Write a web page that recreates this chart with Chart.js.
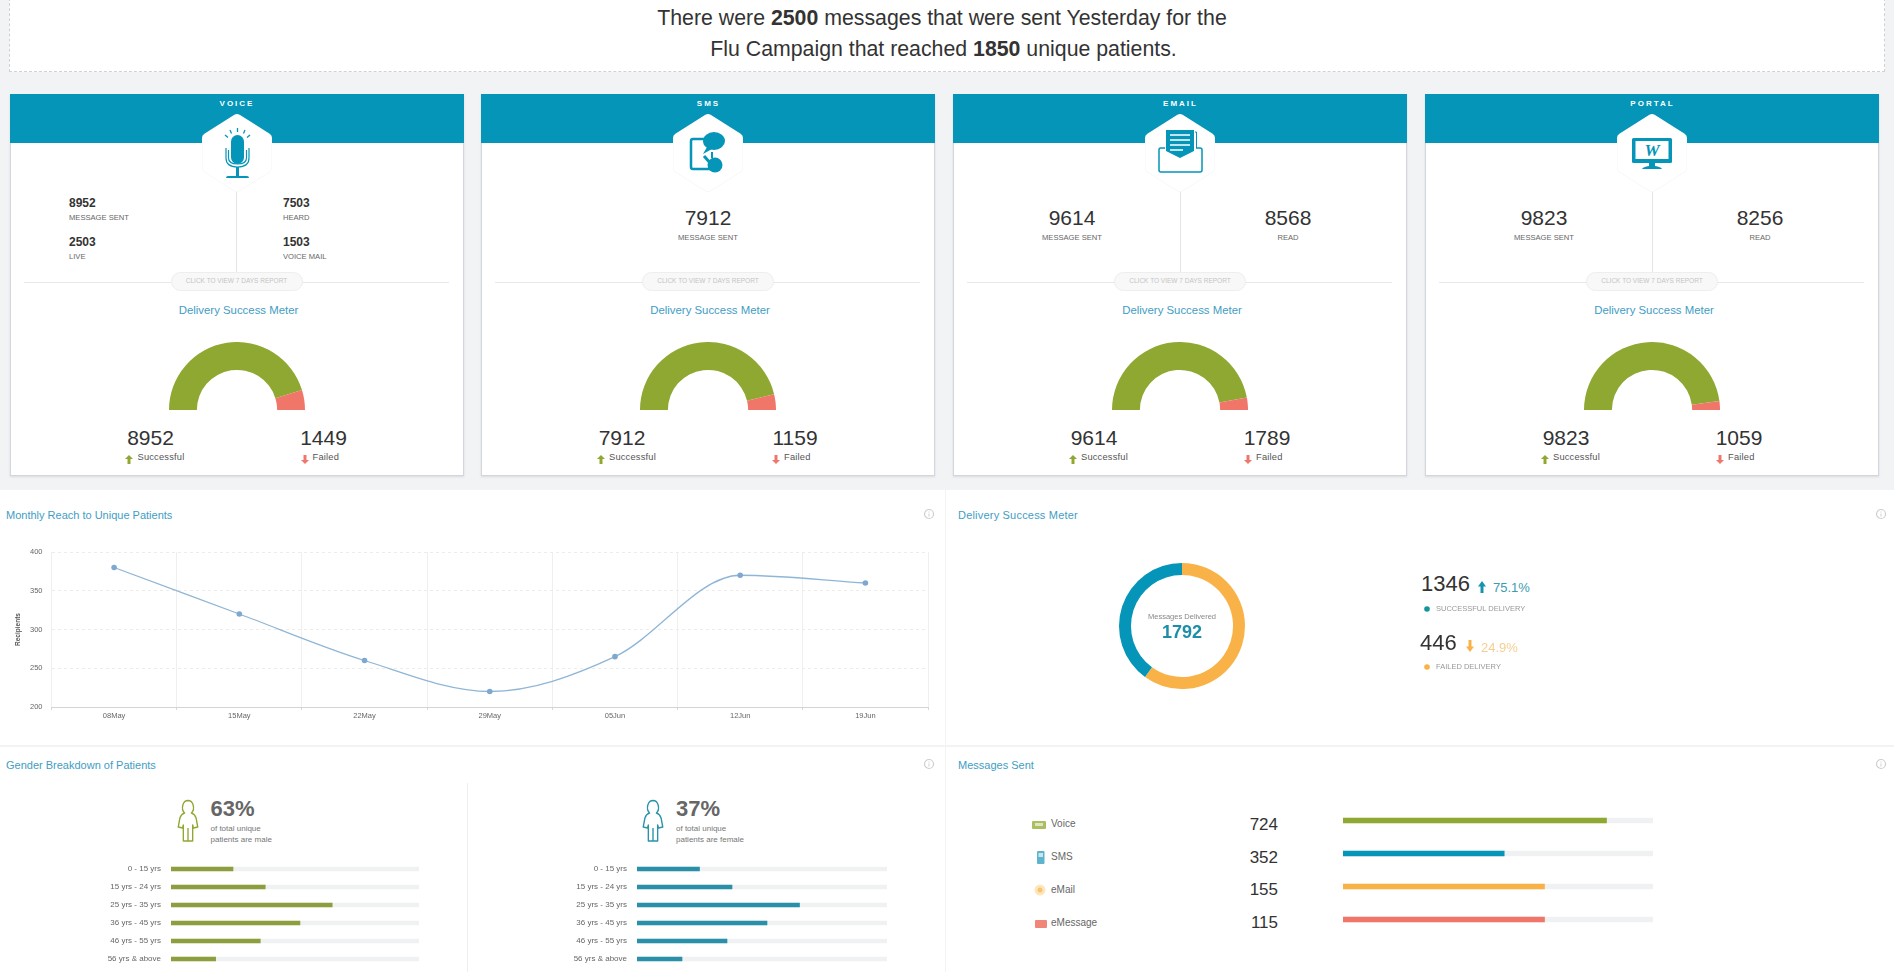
<!DOCTYPE html>
<html>
<head>
<meta charset="utf-8">
<title>Flu Campaign</title>
<script src="https://cdn.jsdelivr.net/npm/chart.js@4"></script>
<style>
  html, body { margin: 0; padding: 0; }
  body { width: 1894px; height: 972px; overflow: hidden; background: #f2f3f5; position: relative;
         font-family: "Liberation Sans", Arial, sans-serif; color: #333; }
  .box { position: absolute; box-sizing: border-box; background: #fff; }
  .t { position: absolute; white-space: nowrap; line-height: 1; }
  canvas, svg { position: absolute; display: block; }
</style>
</head>
<body>
<script>
// channels
const channelNames = ['VOICE', 'SMS', 'EMAIL', 'PORTAL'];
const channelCentres = [236.5, 708, 1180, 1652];
const successValues = [8952, 7912, 9614, 9823];
const failedValues = [1449, 1159, 1789, 1059];
const reportLabels = ['CLICK TO VIEW 7 DAYS REPORT', 'CLICK TO VIEW 7 DAYS REPORT', 'CLICK TO VIEW 7 DAYS REPORT', 'CLICK TO VIEW 7 DAYS REPORT'];
// share of the half ring as drawn in the picture
const gaugeSuccessShare = [90.5, 92.5, 94.1, 95.8];
const gaugeFailedShare = [9.5, 7.5, 5.9, 4.2];

const emailStats = [['9614', 'MESSAGE SENT'], ['8568', 'READ']];
const portalStats = [['9823', 'MESSAGE SENT'], ['8256', 'READ']];
const voiceStats = [['8952', 'MESSAGE SENT'], ['7503', 'HEARD'], ['2503', 'LIVE'], ['1503', 'VOICE MAIL']];

// monthly reach
const reachLabels = ['08May', '15May', '22May', '29May', '05Jun', '12Jun', '19Jun'];
const reachValues = [380, 320, 260, 220, 265, 370, 360];

// delivery ring, share as drawn
const ringShare = [60, 40];

// gender
const ageLabels = ['0 - 15 yrs', '15 yrs - 24 yrs', '25 yrs - 35 yrs', '36 yrs - 45 yrs', '46 yrs - 55 yrs', '56 yrs & above'];
const maleShare = [25, 38, 65, 52, 36, 18];
const femaleShare = [25, 38, 65, 52, 36, 18];

// messages sent
const messageLabels = ['Voice', 'SMS', 'eMail', 'eMessage'];
const messageCounts = [724, 352, 155, 115];
const messageBarShare = [85, 52, 65, 65];

const BLUE = '#0495b8', GREEN = '#8fa832', RED = '#f0766a', ORANGE = '#f9b248', TITLE = '#3f9dc4';
const body = document.body;

function box(x, y, w, h, css) {
  const d = document.createElement('div');
  d.className = 'box';
  d.style.cssText = `left:${x}px;top:${y}px;width:${w}px;height:${h}px;` + (css || '');
  body.appendChild(d);
  return d;
}

// align: l, c, r around x; y is the vertical middle
function put(x, y, text, css, align) {
  const d = document.createElement('div');
  d.className = 't';
  const tx = align === 'c' ? '-50%' : align === 'r' ? '-100%' : '0';
  d.style.cssText = `left:${x}px;top:${y}px;transform:translate(${tx},-50%);` + (css || '');
  d.innerHTML = text;
  body.appendChild(d);
}

function svg(x, y, w, h, inner) {
  const holder = document.createElement('div');
  holder.innerHTML = `<svg style="left:${x}px;top:${y}px" width="${w}" height="${h}" viewBox="0 0 ${w} ${h}">${inner}</svg>`;
  body.appendChild(holder.firstChild);
}

function canvas(x, y, w, h) {
  const c = document.createElement('canvas');
  c.width = w; c.height = h;
  c.style.cssText = `left:${x}px;top:${y}px;width:${w}px;height:${h}px`;
  body.appendChild(c);
  return c;
}

function upArrow(x, y, col, h) {
  h = h || 9;
  svg(x - 4, y - h / 2, 8, h, `<path d="M4 0 L8 ${h * 0.45} L5.5 ${h * 0.45} L5.5 ${h} L2.5 ${h} L2.5 ${h * 0.45} L0 ${h * 0.45} Z" fill="${col}"/>`);
}
function downArrow(x, y, col, h) {
  h = h || 9;
  svg(x - 4, y - h / 2, 8, h, `<path d="M4 ${h} L8 ${h * 0.55} L5.5 ${h * 0.55} L5.5 0 L2.5 0 L2.5 ${h * 0.55} L0 ${h * 0.55} Z" fill="${col}"/>`);
}

const icons = [
  // mic
  `<rect x="29" y="21" width="13" height="29" rx="6.5" fill="${BLUE}"/>
   <path d="M24 34 L24 44 Q24 53 35.500 53 Q47 53 47 44 L47 34 M26.500 36 L26.500 44 Q26.500 50 35.500 50 Q44.500 50 44.500 44 L44.500 36" fill="none" stroke="${BLUE}" stroke-width="1.200"/>
   <path d="M34 53 h3 v9 h-3z M26 62 h19 q2 0 2 2 h-23 q0 -2 2 -2z" fill="${BLUE}"/>
   <path d="M35.500 14 v4 M28 16 l1.500 3.500 M43 16 l-1.500 3.500 M23 21 l3 2.500 M48 21 l-3 2.500" stroke="${BLUE}" stroke-width="1.300"/>`,
  // phone with bubble
  `<path d="M35 25 H20 Q18 25 18 27 V53 Q18 55 20 55 H38" fill="none" stroke="${BLUE}" stroke-width="2.500"/>
   <ellipse cx="41" cy="27" rx="11" ry="9" fill="${BLUE}"/><path d="M34 33 L30 40 L39 35z" fill="${BLUE}"/>
   <path d="M31 42 L38 50" stroke="${BLUE}" stroke-width="3"/><circle cx="42" cy="51" r="7.500" fill="${BLUE}"/><rect x="38" y="38" width="2" height="6" fill="${BLUE}"/>`,
  // envelope
  `<path d="M20 34 H15.500 Q14 34 14 36 V56 Q14 58 16 58 H55 Q57 58 57 56 V36 Q57 34 55 34 H51" fill="none" stroke="${BLUE}" stroke-width="1.500"/>
   <path d="M21 16 H49 V37 L35 44 L21 37 Z" fill="${BLUE}"/>
   <path d="M25 21 H45 M25 26 H45 M25 31 H45 M25 36 H38" stroke="#fff" stroke-width="1.400"/>
   <path d="M50 18 H51.500 V34" fill="none" stroke="${BLUE}" stroke-width="1"/>`,
  // monitor
  `<rect x="15" y="24" width="40" height="25" rx="1.500" fill="${BLUE}"/><rect x="18.500" y="27" width="33" height="18" fill="#fff"/>
   <text x="35" y="42" text-anchor="middle" font-family="Liberation Serif" font-style="italic" font-weight="bold" font-size="17" fill="${BLUE}">W</text>
   <path d="M32 49 h6 v3 q6 1 7 3 h-20 q1 -2 7 -3z" fill="${BLUE}"/>`
];

function person(x, y, col) {
  svg(x - 13, y, 26, 44, `<path fill="none" stroke="${col}" stroke-width="1.600" stroke-linejoin="round" transform="translate(1.950,0) scale(.85,1)"
    d="M13 1.500 a6.500 7 0 0 1 4 12.500 q4 1 5.500 5 l2 9 l-5 1 l-1 -3 v16 h-11 v-16 l-1 3 l-5 -1 l2 -9 q1.500 -4 5.500 -5 a6.500 7 0 0 1 4 -12.500 z M13 29 v13"/>`);
}

function info(x, y) {
  svg(x - 6, y - 6, 12, 12, `<circle cx="6" cy="6" r="4.500" fill="none" stroke="#cfcfcf" stroke-width="1.200"/><path d="M6 3.500 v1 M6 5.500 v3" stroke="#cfcfcf" stroke-width="1"/>`);
}

// headline
box(9, -2, 1876, 74, 'border:1px dashed #cfd1d4;');
put(942, 19, 'There were <b>2500</b> messages that were sent Yesterday for the', 'font-size:21.300px;color:#333;', 'c');
put(943.500, 50, 'Flu Campaign that reached <b>1850</b> unique patients.', 'font-size:21.300px;color:#333;', 'c');

// four cards
const HEX = 'M35 5 L65 24 V54 L35 73 L5 54 V24 Z';
channelNames.forEach((name, i) => {
  const cx = channelCentres[i];
  box(cx - 227, 94, 454, 382, 'border:1px solid #d3d6dc;border-top:0;box-shadow:0 1px 2px #d8dade;');
  box(cx - 227, 94, 454, 49, `background:${BLUE};`);
  put(cx + 0.500, 104, name, 'font-size:8px;font-weight:bold;color:#fff;letter-spacing:2px;', 'c');
  svg(cx - 36, 113, 72, 80, `<g transform="translate(1,1)">
    <path d="${HEX}" fill="#f4f5f6" stroke="#f4f5f6" stroke-width="10" stroke-linejoin="round" clip-path="none"/>
    <path d="${HEX}" fill="#fff" stroke="#fff" stroke-width="9" stroke-linejoin="round"/>${icons[i]}</g>`);

  if (i !== 1) box(cx - 0.500, 192, 1, 80, 'background:#e2e4e6;');
  box(cx - 213, 281.500, 425, 1, 'background:#e6e8ea;');
  box(cx - 66, 272, 132, 19, 'background:#f8f8f8;border:1px solid #eeeeee;border-radius:10px;');
  put(cx, 281, reportLabels[i], 'font-size:6.500px;color:#c4c4c4;', 'c');
  put(cx + 2, 311, 'Delivery Success Meter', `font-size:11.400px;color:${TITLE};`, 'c');

  put(cx - 86, 437, String(successValues[i]), 'font-size:21px;color:#333;', 'c');
  put(cx + 87, 437, String(failedValues[i]), 'font-size:21px;color:#333;', 'c');
  upArrow(cx - 107.500, 459, GREEN);
  put(cx - 99, 458, 'Successful', 'font-size:9.300px;color:#555;letter-spacing:.2px;');
  downArrow(cx + 68, 459, RED);
  put(cx + 76, 458, 'Failed', 'font-size:9.300px;color:#555;letter-spacing:.2px;');

  new Chart(canvas(cx - 68, 342, 136, 68), {
    type: 'doughnut',
    data: {
      labels: ['Successful', 'Failed'],
      datasets: [{
        data: [gaugeSuccessShare[i], gaugeFailedShare[i]],
        backgroundColor: [GREEN, RED],
        borderWidth: 0
      }]
    },
    options: {
      responsive: false, animation: false, rotation: -90, circumference: 180, cutout: '59%',
      plugins: { legend: { display: false }, tooltip: { enabled: false } }
    }
  });
});

// card middles
voiceStats.forEach((s, k) => {
  const x = k % 2 ? 283 : 69, y = k < 2 ? 203 : 241.500;
  put(x, y, s[0], 'font-size:12px;font-weight:bold;color:#333;');
  put(x, y + 15, s[1], 'font-size:7.600px;color:#666;');
});
put(708, 217, '7912', 'font-size:21px;color:#333;', 'c');
put(708, 238, 'MESSAGE SENT', 'font-size:7.600px;color:#666;', 'c');
[[emailStats, 1180], [portalStats, 1652]].forEach(([stats, cx]) => {
  stats.forEach((s, k) => {
    const x = cx + (k ? 108 : -108);
    put(x, 217, s[0], 'font-size:21px;color:#333;', 'c');
    put(x, 238, s[1], 'font-size:7.600px;color:#666;', 'c');
  });
});

// lower panels
box(0, 490, 945, 255);
box(946, 490, 948, 255);
box(0, 747, 945, 225);
box(946, 747, 948, 225);
put(6, 515, 'Monthly Reach to Unique Patients', `font-size:11px;color:${TITLE};`);
put(958, 515, 'Delivery Success Meter', `font-size:11px;color:${TITLE};letter-spacing:.2px;`);
put(6, 765, 'Gender Breakdown of Patients', `font-size:11px;color:${TITLE};`);
put(958, 765, 'Messages Sent', `font-size:11px;color:${TITLE};`);
info(929, 514); info(1881, 514); info(929, 764); info(1881, 764);

// line chart
new Chart(canvas(0, 540, 945, 190), {
  type: 'line',
  data: {
    labels: reachLabels,
    datasets: [{
      label: 'Recipients',
      data: reachValues,
      borderColor: '#8fb6d6',
      backgroundColor: '#7ea8cf',
      borderWidth: 1.300,
      pointRadius: 2.800,
      pointBorderWidth: 0,
      fill: false,
      cubicInterpolationMode: 'monotone'
    }]
  },
  options: {
    responsive: false,
    animation: false,
    layout: { padding: { left: 0, right: 17, top: 12, bottom: 0 } },
    plugins: { legend: { display: false }, tooltip: { enabled: false } },
    scales: {
      x: {
        offset: true,
        afterFit: s => { s.height = 23; },
        grid: { color: '#efefef', offset: true, tickLength: 3, tickColor: '#d8d8d8' },
        border: { color: '#d4d4d4' },
        ticks: { color: '#666', font: { size: 7.500, family: 'Liberation Sans' }, padding: 1, maxRotation: 0 }
      },
      y: {
        min: 200, max: 400,
        afterFit: s => { s.width = 51.500; s.paddingTop = 0; s.paddingBottom = 0; },
        grid: { color: '#ececec', drawTicks: false },
        border: { display: false, dash: [3, 3] },
        title: { display: true, text: 'Recipients', color: '#555', font: { size: 6.500, weight: 'bold', family: 'Liberation Sans' }, padding: { top: 14, bottom: 0 } },
        ticks: { stepSize: 50, color: '#666', font: { size: 7.500, family: 'Liberation Sans' }, padding: 9 }
      }
    }
  }
});

// ring
new Chart(canvas(1119, 563, 126, 126), {
  type: 'doughnut',
  data: {
    labels: ['Failed', 'Successful'],
    datasets: [{ data: ringShare, backgroundColor: [ORANGE, BLUE], borderWidth: 0 }]
  },
  options: {
    responsive: false, animation: false, cutout: '81%',
    plugins: { legend: { display: false }, tooltip: { enabled: false } }
  }
});
put(1182, 617, 'Messages Delivered', 'font-size:7.500px;color:#888;', 'c');
put(1182, 632, '1792', 'font-size:18px;font-weight:bold;color:#1c8ea8;', 'c');

put(1421, 584, '1346', 'font-size:22px;color:#333;');
upArrow(1482, 587, '#1693ad', 12);
put(1493, 587, '75.1%', 'font-size:13px;color:#3d9bb3;');
svg(1424, 606, 6, 6, '<circle cx="3" cy="3" r="2.800" fill="#12969a"/>');
put(1436, 609, 'SUCCESSFUL DELIVERY', 'font-size:7.500px;color:#999;');
put(1420, 643, '446', 'font-size:22px;color:#333;');
downArrow(1470, 646, ORANGE, 12);
put(1481, 647, '24.9%', 'font-size:13px;color:#f5cf92;');
svg(1424, 664, 6, 6, `<circle cx="3" cy="3" r="2.800" fill="${ORANGE}"/>`);
put(1436, 667, 'FAILED DELIVERY', 'font-size:7.500px;color:#999;');

// gender
box(467, 783, 1, 189, 'background:#eeeeee;');
[[187.500, GREEN, '63%', 'male'], [653, '#2a93ab', '37%', 'female']].forEach(([x, col, pct, who]) => {
  person(x, 798.500, col);
  put(x + 23, 809, pct, 'font-size:22px;font-weight:bold;color:#666;');
  put(x + 23, 829, 'of total unique', 'font-size:8px;color:#777;');
  put(x + 23, 840, 'patients are ' + who, 'font-size:8px;color:#777;');
});

function hbar(cv, labels, values, col, thick, opts) {
  return new Chart(cv, {
    type: 'bar',
    data: {
      labels: labels,
      datasets: [
        { data: values, backgroundColor: col, barThickness: thick },
        { data: labels.map(() => 100), backgroundColor: '#f0f1f3', barThickness: thick }
      ]
    },
    options: {
      responsive: false,
      animation: false,
      indexAxis: 'y',
      layout: { padding: 0 },
      datasets: { bar: { grouped: false } },
      plugins: { legend: { display: false }, tooltip: { enabled: false } },
      scales: {
        x: { display: false, min: 0, max: 100 },
        y: opts
      }
    }
  });
}

const ageAxis = {
  afterFit: s => { s.width = 171; s.paddingTop = 0; s.paddingBottom = 0; },
  grid: { display: false, drawTicks: false },
  border: { display: false },
  ticks: { color: '#666', font: { size: 8, family: 'Liberation Sans' }, padding: 10, autoSkip: false }
};
hbar(canvas(0, 860, 419, 108), ageLabels, maleShare, '#8b9f3f', 4, ageAxis);
hbar(canvas(466, 860, 421, 108), ageLabels, femaleShare, '#2a8fa9', 4, ageAxis);

// messages
hbar(canvas(1343, 804, 310, 132), messageLabels, messageBarShare, [GREEN, BLUE, ORANGE, RED], 5, { display: false });
const messageY = [824, 857, 890, 923];
messageLabels.forEach((name, i) => {
  put(1051, messageY[i], name, 'font-size:10px;color:#666;');
  put(1278, messageY[i] - (i > 1 ? 1 : 0), String(messageCounts[i]), 'font-size:17px;color:#333;', 'r');
});
svg(1030, 815, 20, 120, `
  <rect x="2" y="6" width="14" height="8" rx="1" fill="#abbe62"/><rect x="5" y="8" width="8" height="3" fill="#dfe6bd"/>
  <rect x="7" y="36" width="7.500" height="13" rx="1" fill="#5db4cc"/><rect x="8.500" y="38" width="4.500" height="4" fill="#c9e6ee"/>
  <circle cx="10" cy="75" r="5.500" fill="#fde6bd"/><circle cx="10" cy="75" r="2.500" fill="#f7c46f"/>
  <rect x="5" y="105" width="12" height="8" rx="1" fill="#f0857a"/>`);
</script>
</body>
</html>
